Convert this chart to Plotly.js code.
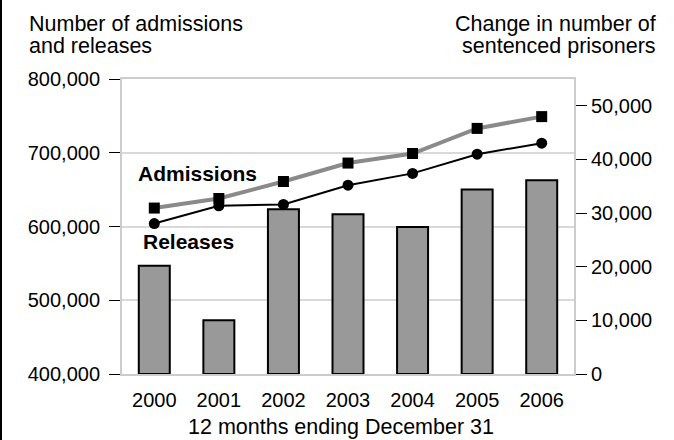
<!DOCTYPE html>
<html>
<head>
<meta charset="utf-8">
<script src="https://cdn.plot.ly/plotly-3.0.1.min.js"></script>
<style>
  html, body { margin: 0; padding: 0; background: #fff; }
  #chart { width: 674px; height: 440px; }
  #edge { position: absolute; left: 0; top: 0; width: 2px; height: 440px; background: #000; }
</style>
</head>
<body>
<div id="chart"></div>
<div id="edge"></div>
<script>
// ---- Data ----
const years = ['2000', '2001', '2002', '2003', '2004', '2005', '2006'];
const admissions = [625000, 638000, 661000, 686000, 699000, 733000, 749000];
const releases = [604000, 628000, 630000, 656000, 672000, 698000, 713000];
const changeSentenced = [20200, 10000, 30700, 29800, 27400, 34400, 36100];

// ---- Layout helpers (pixel -> paper) ----
const W = 674, H = 440;
const M = { l: 122, r: 100, t: 79, b: 66 };
const PW = W - M.l - M.r, PH = H - M.t - M.b;
const px = x => (x - M.l) / PW;
const py = y => 1 - (y - M.t) / PH;

const FONT = '"Liberation Sans", Arial, Helvetica, sans-serif';

const traces = [
  {
    type: 'bar',
    x: years,
    y: changeSentenced,
    yaxis: 'y',
    width: 0.48,
    marker: { color: '#999999', line: { color: '#000000', width: 2 } },
    hoverinfo: 'x+y'
  },
  {
    type: 'scatter',
    mode: 'lines+markers',
    x: years,
    y: admissions,
    yaxis: 'y2',
    line: { color: '#8a8a8a', width: 4 },
    marker: { symbol: 'square', size: 11, color: '#000000' },
    name: 'Admissions'
  },
  {
    type: 'scatter',
    mode: 'lines+markers',
    x: years,
    y: releases,
    yaxis: 'y2',
    line: { color: '#000000', width: 2 },
    marker: { symbol: 'circle', size: 11, color: '#000000' },
    name: 'Releases'
  }
];

const axisLine = { showline: true, linecolor: '#cccccc', linewidth: 2 };

const layout = {
  width: W,
  height: H,
  margin: M,
  showlegend: false,
  paper_bgcolor: '#ffffff',
  plot_bgcolor: '#ffffff',
  font: { family: FONT, color: '#000000', size: 20 },
  xaxis: Object.assign({}, axisLine, {
    type: 'category',
    mirror: true,
    ticks: '',
    showgrid: false,
    tickfont: { size: 20 },
    ticklabelstandoff: 7
  }),
  yaxis: Object.assign({}, axisLine, {
    side: 'right',
    range: [0, 55000],
    dtick: 10000,
    tickformat: ',',
    ticks: 'outside',
    ticklen: 11,
    tickwidth: 1,
    tickcolor: '#000000',
    showgrid: false,
    zeroline: false,
    tickfont: { size: 20 }
  }),
  yaxis2: Object.assign({}, axisLine, {
    overlaying: 'y',
    side: 'left',
    range: [400000, 800000],
    dtick: 100000,
    tickformat: ',',
    ticks: 'outside',
    ticklen: 11,
    tickwidth: 1,
    tickcolor: '#000000',
    showgrid: true,
    gridcolor: '#d9d9d9',
    gridwidth: 2,
    zeroline: false,
    tickfont: { size: 20 },
    ticklabelstandoff: 5
  }),
  annotations: [
    { text: 'Number of admissions', x: px(27), y: py(24), xanchor: 'left', yanchor: 'middle' },
    { text: 'and releases', x: px(27), y: py(46), xanchor: 'left', yanchor: 'middle' },
    { text: 'Change in number of', x: px(658), y: py(24), xanchor: 'right', yanchor: 'middle' },
    { text: 'sentenced prisoners', x: px(658), y: py(46), xanchor: 'right', yanchor: 'middle' },
    { text: '12 months ending December 31', x: px(341), y: py(427), xanchor: 'center', yanchor: 'middle' },
    { text: '<b>Admissions</b>', x: px(136), y: py(173), xanchor: 'left', yanchor: 'middle', font: { size: 21 } },
    { text: '<b>Releases</b>', x: px(141), y: py(242), xanchor: 'left', yanchor: 'middle', font: { size: 21 } }
  ].map(a => Object.assign({
    xref: 'paper', yref: 'paper', showarrow: false,
    font: { size: 21.5, family: FONT, color: '#000000' }
  }, a, a.font ? { font: Object.assign({ family: FONT, color: '#000000' }, a.font) } : {}))
};

Plotly.newPlot('chart', traces, layout, { displayModeBar: false, staticPlot: true });
</script>
</body>
</html>
